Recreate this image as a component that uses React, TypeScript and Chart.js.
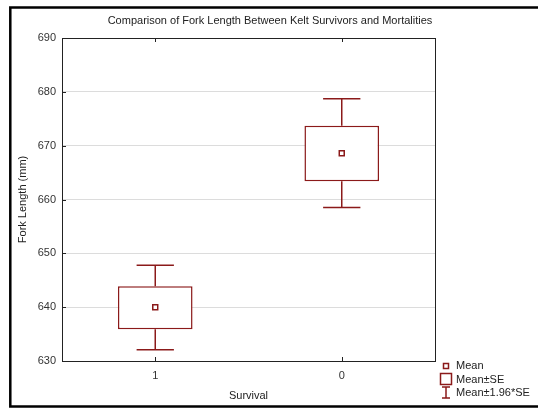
import React, { useEffect, useRef } from "react";
import { Chart, registerables } from "chart.js";

Chart.register(...registerables);

const categories = ["1", "0"];
const means = [640.0, 668.6];
const seLow = [635.9, 663.4];
const seHigh = [643.9, 673.7];
const ciLow = [632.1, 658.5];
const ciHigh = [647.8, 678.7];
const yTicks = [630, 640, 650, 660, 670, 680, 690];
const titleText = "Comparison of Fork Length Between Kelt Survivors and Mortalities";
const xTitle = "Survival";
const yTitle = "Fork Length (mm)";
const legendLabels = ["Mean", "Mean±SE", "Mean±1.96*SE"];

const RED = "#8b1a1a";
const FONT = "'Liberation Sans', Arial, sans-serif";

const decor = {
  id: "decor",
  beforeDraw(chart: any) {
    const ctx = chart.ctx;
    ctx.save();
    ctx.fillStyle = "#ffffff";
    ctx.fillRect(0, 0, chart.width, chart.height);
    ctx.restore();
  },
  afterDatasetsDraw(chart: any) {
    const ctx = chart.ctx;
    const xs = chart.scales.x;
    const ys = chart.scales.y;
    const meta = chart.getDatasetMeta(0);
    ctx.save();
    ctx.strokeStyle = RED;
    ctx.lineWidth = 1.5;
    for (let i = 0; i < categories.length; i++) {
      const x = xs.getPixelForValue(i);
      const bw = meta.data[i] ? meta.data[i].width : 75;
      const half = bw * 0.25;
      const yTop = ys.getPixelForValue(ciHigh[i]);
      const yBot = ys.getPixelForValue(ciLow[i]);
      const yBoxTop = ys.getPixelForValue(seHigh[i]);
      const yBoxBot = ys.getPixelForValue(seLow[i]);
      ctx.beginPath();
      ctx.moveTo(x, yBoxTop);
      ctx.lineTo(x, yTop);
      ctx.moveTo(x - half, yTop);
      ctx.lineTo(x + half, yTop);
      ctx.moveTo(x, yBoxBot);
      ctx.lineTo(x, yBot);
      ctx.moveTo(x - half, yBot);
      ctx.lineTo(x + half, yBot);
      ctx.stroke();
    }
    ctx.restore();
  },
  afterDraw(chart: any) {
    const ctx = chart.ctx;
    const a = chart.chartArea;
    const xs = chart.scales.x;
    const ys = chart.scales.y;
    ctx.save();
    // plot frame
    ctx.strokeStyle = "#222";
    ctx.lineWidth = 1;
    ctx.strokeRect(Math.round(a.left) + 0.5, Math.round(a.top) + 0.5, Math.round(a.right - a.left), Math.round(a.bottom - a.top));
    // inward ticks
    ctx.beginPath();
    for (const v of yTicks) {
      const y = Math.round(ys.getPixelForValue(v)) + 0.5;
      ctx.moveTo(a.left, y);
      ctx.lineTo(a.left + 4, y);
    }
    for (let i = 0; i < categories.length; i++) {
      const x = Math.round(xs.getPixelForValue(i)) + 0.5;
      ctx.moveTo(x, a.bottom);
      ctx.lineTo(x, a.bottom - 4);
      ctx.moveTo(x, a.top);
      ctx.lineTo(x, a.top + 4);
    }
    ctx.stroke();

    // title
    ctx.fillStyle = "#222";
    ctx.font = "11px " + FONT;
    ctx.textAlign = "center";
    ctx.textBaseline = "middle";
    ctx.fillText(titleText, 270, 21);

    // legend
    ctx.strokeStyle = RED;
    ctx.lineWidth = 1.5;
    ctx.fillStyle = "#fff";
    // mean marker
    ctx.fillRect(443.5, 363.5, 5, 5);
    ctx.strokeRect(443.5, 363.5, 5, 5);
    // SE box
    ctx.strokeRect(440.5, 373.5, 11, 11);
    // whisker
    ctx.beginPath();
    ctx.moveTo(446, 387);
    ctx.lineTo(446, 398);
    ctx.moveTo(442, 387);
    ctx.lineTo(450, 387);
    ctx.moveTo(442, 398);
    ctx.lineTo(450, 398);
    ctx.stroke();
    ctx.fillStyle = "#222";
    ctx.textAlign = "left";
    ctx.textBaseline = "middle";
    ctx.fillText(legendLabels[0], 456, 366);
    ctx.fillText(legendLabels[1], 456, 379.5);
    ctx.fillText(legendLabels[2], 456, 393);

    // outer frame
    ctx.strokeStyle = "#000";
    ctx.lineWidth = 2.5;
    ctx.beginPath();
    ctx.moveTo(540, 7.5);
    ctx.lineTo(10.3, 7.5);
    ctx.lineTo(10.3, 406.5);
    ctx.lineTo(540, 406.5);
    ctx.stroke();
    ctx.restore();
  },
};

export default function App() {
  const ref = useRef<HTMLCanvasElement | null>(null);
  useEffect(() => {
    if (!ref.current) return;
    const chart = new Chart(ref.current, {
      type: "bar",
      data: {
        labels: categories,
        datasets: [
          {
            type: "bar",
            label: legendLabels[1],
            data: seLow.map((l, i) => [l, seHigh[i]]) as any,
            backgroundColor: "#ffffff",
            borderColor: RED,
            borderWidth: 1.5,
            borderSkipped: false,
            barPercentage: 0.4,
            categoryPercentage: 1,
            order: 1,
          } as any,
          {
            type: "line",
            label: legendLabels[0],
            data: means,
            showLine: false,
            pointStyle: "rect",
            pointRadius: 3.5,
            pointBorderColor: RED,
            pointBackgroundColor: "#ffffff",
            pointBorderWidth: 1.5,
            order: 0,
          } as any,
        ],
      },
      options: {
        animation: false,
        responsive: false,
        devicePixelRatio: 1,
        layout: { padding: { left: 0, right: 103, top: 38, bottom: 0 } },
        plugins: {
          legend: { display: false },
          title: { display: false },
          tooltip: { enabled: false },
        },
        scales: {
          x: {
            type: "category",
            offset: true,
            grid: { display: false, drawTicks: false },
            border: { display: false },
            ticks: { color: "#333", font: { size: 11, family: FONT }, padding: 8 },
            title: { display: true, text: xTitle, color: "#222", font: { size: 11, family: FONT }, padding: { top: 0, bottom: 6 } },
            afterFit(s: any) { s.height = 48; },
          },
          y: {
            type: "linear",
            min: 630,
            max: 690,
            afterBuildTicks(s: any) { s.ticks = yTicks.map((v) => ({ value: v })); },
            grid: { color: "#dcdcdc", drawTicks: false },
            border: { display: false },
            ticks: { color: "#333", font: { size: 11, family: FONT }, padding: 6 },
            title: { display: true, text: yTitle, color: "#222", font: { size: 11, family: FONT }, padding: { top: 16, bottom: 0 } },
            afterFit(s: any) { s.width = 62; },
          },
        },
      },
      plugins: [decor],
    } as any);
    return () => chart.destroy();
  }, []);
  return (
    <div style={{ position: "fixed", left: 0, top: 0, width: 538, height: 409 }}>
      <canvas ref={ref} width={538} height={409} style={{ width: 538, height: 409, display: "block" }} />
    </div>
  );
}
